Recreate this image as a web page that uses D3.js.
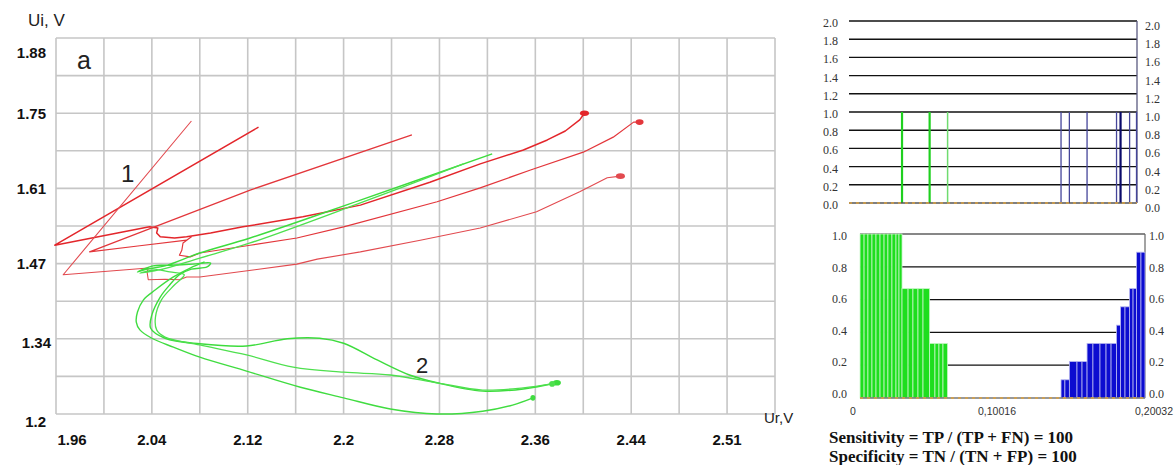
<!DOCTYPE html>
<html>
<head>
<meta charset="utf-8">
<script src="https://cdn.jsdelivr.net/npm/d3@7"></script>
<style>
  body { margin: 0; background: #fff; }
  svg { display: block; }
</style>
</head>
<body>
<svg width="1174" height="465"></svg>
<script>
// ---------- left chart: Ui(Ur) trajectories ----------
const xTicks = [1.96, 2.04, 2.12, 2.2, 2.28, 2.36, 2.44, 2.52];
const xTickLabels = ["1.96", "2.04", "2.12", "2.2", "2.28", "2.36", "2.44", "2.51"];
const yTicks = [1.2, 1.335, 1.47, 1.605, 1.74, 1.875];
const yTickLabels = ["1.2", "1.34", "1.47", "1.61", "1.75", "1.88"];

// class 1 (red), [Ur, Ui]
const red1 = [[2.129,1.715],[1.959,1.503],[2.038,1.536],[2.045,1.534],[2.044,1.525],[2.047,1.518],
  [2.059,1.516],[2.069,1.518],[2.089,1.525],[2.116,1.536],[2.166,1.554],[2.214,1.575],[2.272,1.616],
  [2.314,1.649],[2.350,1.674],[2.370,1.692],[2.385,1.708],[2.397,1.728],[2.401,1.740]];
const red2 = [[2.257,1.701],[2.122,1.602],[1.988,1.491],[2.030,1.502],[2.069,1.512],[2.073,1.518],
  [2.066,1.507],[2.065,1.494],[2.063,1.485],[2.072,1.482],[2.080,1.489],[2.122,1.503],[2.161,1.516],
  [2.200,1.536],[2.278,1.581],[2.314,1.606],[2.356,1.638],[2.400,1.670],[2.425,1.697],[2.442,1.724],
  [2.447,1.724]];
const red3 = [[2.073,1.726],[1.966,1.450],[2.037,1.462],[2.036,1.455],[2.037,1.441],[2.051,1.442],
  [2.063,1.441],[2.069,1.446],[2.080,1.446],[2.126,1.459],[2.161,1.469],[2.178,1.478],[2.214,1.491],
  [2.264,1.512],[2.314,1.534],[2.361,1.563],[2.397,1.599],[2.420,1.624],[2.431,1.627]];

// class 2 (green)
const green1 = [[2.324,1.667],[2.214,1.584],[2.122,1.516],[2.080,1.489],[2.051,1.466],[2.036,1.460],
  [2.028,1.455],[2.041,1.466],[2.055,1.467],[2.074,1.469],[2.089,1.471],[2.086,1.464],[2.073,1.460],
  [2.063,1.450],[2.055,1.432],[2.047,1.410],[2.040,1.378],[2.039,1.354],[2.051,1.336],[2.080,1.326],
  [2.119,1.322],[2.153,1.335],[2.180,1.336],[2.200,1.327],[2.228,1.297],[2.255,1.270],[2.278,1.256],
  [2.316,1.241],[2.350,1.245],[2.378,1.256]];
const green2 = [[2.300,1.649],[2.214,1.579],[2.122,1.507],[2.080,1.480],[2.047,1.459],[2.030,1.453],
  [2.044,1.459],[2.055,1.455],[2.067,1.450],[2.059,1.432],[2.048,1.405],[2.043,1.374],[2.044,1.351],
  [2.051,1.338],[2.080,1.324],[2.119,1.306],[2.158,1.284],[2.200,1.275],[2.239,1.270],[2.278,1.256],
  [2.316,1.243],[2.350,1.247],[2.374,1.254]];
const green3 = [[2.084,1.473],[2.072,1.462],[2.058,1.446],[2.043,1.423],[2.033,1.405],[2.028,1.383],
  [2.027,1.365],[2.030,1.351],[2.040,1.336],[2.058,1.320],[2.080,1.302],[2.119,1.277],[2.164,1.248],
  [2.200,1.229],[2.239,1.209],[2.278,1.200],[2.316,1.205],[2.341,1.216],[2.358,1.229]];

// ---------- right panels: distance histograms ----------
const greenSamples = [0.0341, 0.0533, 0.0658];
const blueSamples = [0.1447, 0.1505, 0.1628, 0.1833, 0.1861, 0.1924, 0.1972];
const sensEdges = [0.0049,0.0077,0.0104,0.0132,0.0160,0.0188,0.0216,0.0243,0.0271,0.0299,0.0320,
  0.0341,0.0383,0.0417,0.0452,0.0487,0.0533,0.0570,0.0598,0.0626,0.0658];
const sensValues = [1,1,1,1,1,1,1,1,1,1,1,0.667,0.667,0.667,0.667,0.667,0.333,0.333,0.333,0.333];
const specEdges = [0.1447,0.1474,0.1505,0.1558,0.1593,0.1628,0.1669,0.1718,0.1760,0.1795,0.1833,
  0.1861,0.1892,0.1924,0.1948,0.1972,0.2003,0.2031];
const specValues = [0.111,0.111,0.222,0.222,0.222,0.333,0.333,0.333,0.333,0.333,0.444,0.556,0.556,
  0.667,0.667,0.889,0.889];
const topTicks = [0, 0.2, 0.4, 0.6, 0.8, 1.0, 1.2, 1.4, 1.6, 1.8, 2.0];
const botTicks = [0, 0.2, 0.4, 0.6, 0.8, 1.0];
const distTicks = [0, 0.10016, 0.20032];
const distLabels = ["0", "0,10016", "0,20032"];

const svg = d3.select('svg');
svg.append('rect').attr('width', 1174).attr('height', 465).attr('fill', '#fff');

const x = d3.scaleLinear().domain([1.96, 2.56]).range([56, 775]);
const y = d3.scaleLinear().domain([1.2, 1.875]).range([414, 38]);

const grid = svg.append('g').attr('stroke', '#c6c6c6').attr('stroke-width', 1.6);
grid.selectAll('.gv').data(d3.range(16)).enter().append('line')
  .attr('x1', i => x(1.96 + i * 0.04)).attr('x2', i => x(1.96 + i * 0.04))
  .attr('y1', y(1.2)).attr('y2', y(1.875));
grid.selectAll('.gh').data(d3.range(11)).enter().append('line')
  .attr('x1', x(1.96)).attr('x2', x(2.56))
  .attr('y1', i => y(1.2 + i * 0.0675)).attr('y2', i => y(1.2 + i * 0.0675));

const font = "'Liberation Sans', Arial, sans-serif";
svg.append('g').selectAll('text').data(yTicks).enter().append('text')
  .attr('x', (d, i) => i === 1 ? 51 : 46)
  .attr('y', (d, i) => y(d) + (i === yTicks.length - 1 ? 14 : i === 0 ? 7 : i === 1 ? 4 : 0))
  .attr('text-anchor', 'end').attr('dominant-baseline', 'central')
  .attr('font-family', font).attr('font-weight', 'bold').attr('font-size', 15).attr('fill', '#111')
  .text((d, i) => yTickLabels[i]);
svg.append('g').selectAll('text').data(xTicks).enter().append('text')
  .attr('x', (d, i) => x(d) + (i === 0 ? 16 : 0)).attr('y', 439)
  .attr('text-anchor', 'middle').attr('dominant-baseline', 'central')
  .attr('font-family', font).attr('font-weight', 'bold').attr('font-size', 15).attr('fill', '#111')
  .text((d, i) => xTickLabels[i]);

svg.append('text').attr('x', 28).attr('y', 26).attr('font-family', font).attr('font-size', 17)
  .attr('fill', '#222').text('Ui, V');
svg.append('text').attr('x', 764).attr('y', 423).attr('font-family', font).attr('font-size', 15)
  .attr('fill', '#222').text('Ur,V');
svg.append('text').attr('x', 77).attr('y', 69).attr('font-family', font).attr('font-size', 25)
  .attr('fill', '#222').text('a');
svg.append('text').attr('x', 121).attr('y', 182).attr('font-family', font).attr('font-size', 24)
  .attr('fill', '#222').text('1');
svg.append('text').attr('x', 416).attr('y', 373).attr('font-family', font).attr('font-size', 22)
  .attr('fill', '#222').text('2');

// red traces are jagged with sharp turns, green ones are smooth
const redLine = d3.line().x(d => x(d[0])).y(d => y(d[1]));
const greenLine = d3.line().x(d => x(d[0])).y(d => y(d[1])).curve(d3.curveCatmullRom.alpha(0.5));
const curves = [
  { pts: red1, color: '#e3262b', w: 1.5, r: 4.5, gen: redLine },
  { pts: red2, color: '#e3363b', w: 1.2, r: 4, gen: redLine },
  { pts: red3, color: '#e24a4f', w: 1.1, r: 4.5, gen: redLine },
  { pts: green1, color: '#3ddc3d', w: 1.4, r: 4, gen: greenLine },
  { pts: green2, color: '#4ee04e', w: 1.3, r: 3, gen: greenLine },
  { pts: green3, color: '#40dc40', w: 1.4, r: 2.5, gen: greenLine }
];
const cg = svg.append('g').attr('fill', 'none').attr('stroke-linejoin', 'round');
cg.selectAll('path').data(curves).enter().append('path')
  .attr('d', c => c.gen(c.pts)).attr('stroke', c => c.color).attr('stroke-width', c => c.w);
// end blobs
svg.append('g').selectAll('ellipse').data(curves).enter().append('ellipse')
  .attr('cx', c => x(c.pts[c.pts.length - 1][0])).attr('cy', c => y(c.pts[c.pts.length - 1][1]))
  .attr('rx', c => c.r).attr('ry', 2.8)
  .attr('fill', c => c.color);

// ---------- right panels ----------
const xs = d3.scaleLinear().domain([0, 0.20032]).range([853, 1141]);
const yTop = d3.scaleLinear().domain([0, 2]).range([203, 21]);
const yBot = d3.scaleLinear().domain([0, 1]).range([398, 234]);
const yBotLab = d3.scaleLinear().domain([0, 1]).range([394, 236]);
const serif = "'Liberation Serif', 'Times New Roman', serif";

// top panel
const tp = svg.append('g');
tp.selectAll('.h').data(topTicks.slice(1)).enter().append('line')
  .attr('x1', 849).attr('x2', 1137).attr('y1', d => yTop(d)).attr('y2', d => yTop(d))
  .attr('stroke', '#111').attr('stroke-width', 1.4);
tp.append('line').attr('x1', 1137).attr('x2', 1137).attr('y1', yTop(2)).attr('y2', yTop(0))
  .attr('stroke', '#5a5a80').attr('stroke-width', 1.3);
tp.selectAll('.g').data(greenSamples).enter().append('line')
  .attr('x1', d => xs(d)).attr('x2', d => xs(d)).attr('y1', yTop(0)).attr('y2', yTop(1))
  .attr('stroke', (d, i) => i === 2 ? '#6fdc6f' : '#1fd01f').attr('stroke-width', (d, i) => i === 2 ? 1.5 : 2.2);
tp.selectAll('.b').data(blueSamples).enter().append('line')
  .attr('x1', d => xs(d)).attr('x2', d => xs(d)).attr('y1', yTop(0)).attr('y2', yTop(1))
  .attr('stroke', (d, i) => i === 4 ? '#0a0a6a' : '#45459a').attr('stroke-width', (d, i) => i === 4 ? 2.2 : 1.3);
tp.append('line').attr('x1', 849).attr('x2', 1137).attr('y1', yTop(0)).attr('y2', yTop(0))
  .attr('stroke', '#555').attr('stroke-width', 1.4);
tp.append('line').attr('x1', 849).attr('x2', 1137).attr('y1', yTop(0)).attr('y2', yTop(0))
  .attr('stroke', '#d9a040').attr('stroke-width', 1.4).attr('stroke-dasharray', '3,4');
tp.selectAll('.ll').data(topTicks).enter().append('text')
  .attr('x', 838).attr('y', d => yTop(d) + 2).attr('text-anchor', 'end').attr('dominant-baseline', 'central')
  .attr('font-family', serif).attr('font-size', 12).attr('fill', '#333').text(d => d.toFixed(1));
tp.selectAll('.rl').data(topTicks).enter().append('text')
  .attr('x', 1145).attr('y', d => yTop(d) + 5).attr('dominant-baseline', 'central')
  .attr('font-family', serif).attr('font-size', 12).attr('fill', '#333').text(d => d.toFixed(1));

// bottom panel
const bp = svg.append('g');
bp.selectAll('.h').data(botTicks.slice(1)).enter().append('line')
  .attr('x1', 860).attr('x2', 1145).attr('y1', d => yBot(d)).attr('y2', d => yBot(d))
  .attr('stroke', '#111').attr('stroke-width', 1.2);
bp.append('line').attr('x1', 1145).attr('x2', 1145).attr('y1', yBot(1)).attr('y2', yBot(0))
  .attr('stroke', '#666').attr('stroke-width', 1.2);
bp.selectAll('.sb').data(sensValues).enter().append('rect')
  .attr('x', (d, i) => xs(sensEdges[i])).attr('width', (d, i) => xs(sensEdges[i + 1]) - xs(sensEdges[i]))
  .attr('y', d => yBot(d)).attr('height', d => yBot(0) - yBot(d))
  .attr('fill', '#1ede1e').attr('stroke', '#c8f5c8').attr('stroke-width', 0.8);
bp.selectAll('.pb').data(specValues).enter().append('rect')
  .attr('x', (d, i) => xs(specEdges[i])).attr('width', (d, i) => xs(specEdges[i + 1]) - xs(specEdges[i]))
  .attr('y', d => yBot(d)).attr('height', d => yBot(0) - yBot(d))
  .attr('fill', '#0c0cd0').attr('stroke', '#b8b8f0').attr('stroke-width', 0.8);
bp.append('line').attr('x1', 860).attr('x2', 1145).attr('y1', yBot(0)).attr('y2', yBot(0))
  .attr('stroke', '#777').attr('stroke-width', 1.3);
bp.append('line').attr('x1', 860).attr('x2', 1145).attr('y1', yBot(0)).attr('y2', yBot(0))
  .attr('stroke', '#d9a040').attr('stroke-width', 1.3).attr('stroke-dasharray', '3,4');
bp.selectAll('.ll').data(botTicks).enter().append('text')
  .attr('x', 847).attr('y', d => yBotLab(d)).attr('text-anchor', 'end').attr('dominant-baseline', 'central')
  .attr('font-family', serif).attr('font-size', 12).attr('fill', '#333').text(d => d.toFixed(1));
bp.selectAll('.rl').data(botTicks).enter().append('text')
  .attr('x', 1149).attr('y', d => yBotLab(d)).attr('dominant-baseline', 'central')
  .attr('font-family', serif).attr('font-size', 12).attr('fill', '#333').text(d => d.toFixed(1));
bp.selectAll('.xl').data(distTicks).enter().append('text')
  .attr('x', (d, i) => i === 2 ? 1173 : xs(d)).attr('y', 411)
  .attr('text-anchor', (d, i) => i === 2 ? 'end' : 'middle').attr('dominant-baseline', 'central')
  .attr('font-family', font).attr('font-size', 10.5).attr('fill', '#333').text((d, i) => distLabels[i]);

svg.append('text').attr('x', 829).attr('y', 443).attr('font-family', serif).attr('font-weight', 'bold')
  .attr('font-size', 17).attr('fill', '#111').text('Sensitivity = TP / (TP + FN) = 100');
svg.append('text').attr('x', 829).attr('y', 462).attr('font-family', serif).attr('font-weight', 'bold')
  .attr('font-size', 17).attr('fill', '#111').text('Specificity = TN / (TN + FP) = 100');
</script>
</body>
</html>
